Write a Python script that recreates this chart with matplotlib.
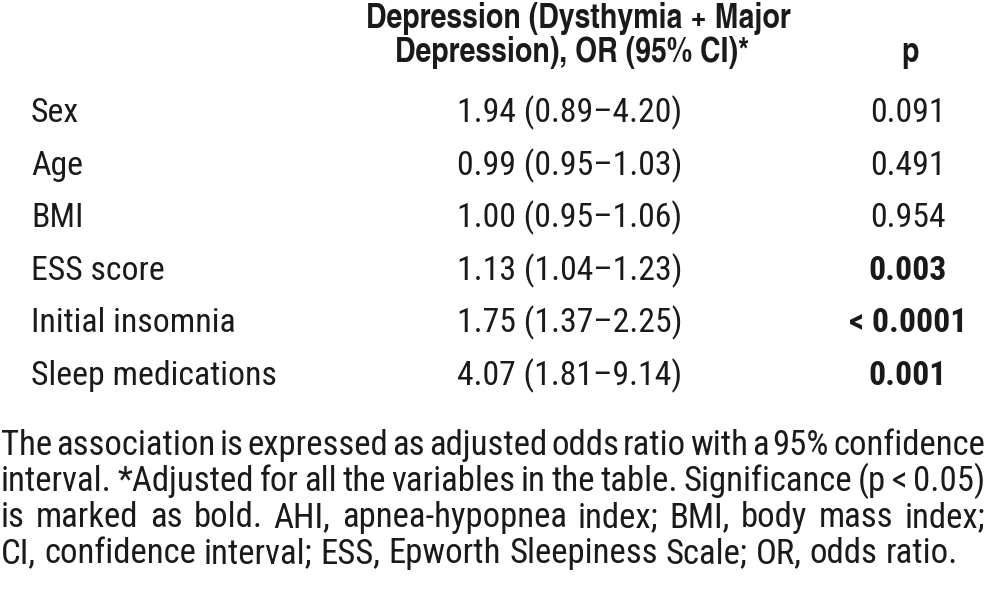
import matplotlib
matplotlib.use("Agg")
import matplotlib.pyplot as plt

# ---- data ----
header_or = ["Depression (Dysthymia + Major", "Depression), OR (95% CI)*"]
header_p = "p"
variables = ["Sex", "Age", "BMI", "ESS score", "Initial insomnia", "Sleep medications"]
odds_ratio = ["1.94", "0.99", "1.00", "1.13", "1.75", "4.07"]
ci_low = ["0.89", "0.95", "0.95", "1.04", "1.37", "1.81"]
ci_high = ["4.20", "1.03", "1.06", "1.23", "2.25", "9.14"]
p_values = ["0.091", "0.491", "0.954", "0.003", "< 0.0001", "0.001"]
p_bold = [False, False, False, True, True, True]
footnote_lines = [
    "The association is expressed as adjusted odds ratio with a 95% confidence",
    "interval. *Adjusted for all the variables in the table. Significance (p < 0.05)",
    "is marked as bold. AHI, apnea-hypopnea index; BMI, body mass index;",
    "CI, confidence interval; ESS, Epworth Sleepiness Scale; OR, odds ratio.",
]

REG = ["Roboto Condensed", "Liberation Sans"]
HDR = ["TeX Gyre Heros Cn", "Liberation Sans"]

W, H = 988, 600
fig = plt.figure(figsize=(W / 100, H / 100), dpi=100)
ax = fig.add_axes([0, 0, 1, 1])
ax.set_xlim(0, W)
ax.set_ylim(H, 0)
ax.axis("off")

FS = 24.3
FFS = 25
col = "#1a1a1a"

# header
ax.text(578, 28, header_or[0], ha="center", va="baseline", fontsize=25, fontweight="bold", family=HDR, color=col)
ax.text(572, 62, header_or[1], ha="center", va="baseline", fontsize=25, fontweight="bold", family=HDR, color=col)
ax.text(910, 62, header_p, ha="center", va="baseline", fontsize=25, fontweight="bold", family=HDR, color=col)

row_base = [122, 175, 227, 280, 332, 385]
for i, v in enumerate(variables):
    y = row_base[i]
    ax.text(31, y, v, ha="left", va="baseline", fontsize=FS, family=REG, color=col)
    ax.text(570, y, f"{odds_ratio[i]} ({ci_low[i]}\u2013{ci_high[i]})", ha="center", va="baseline",
            fontsize=FS, family=REG, color=col)
    ax.text(908, y, p_values[i], ha="center", va="baseline", fontsize=FS,
            fontweight="bold" if p_bold[i] else "normal", family=REG, color=col)

# footnote: justified lines, last line left-aligned
fig.canvas.draw()
renderer = fig.canvas.get_renderer()
left, right = 1, 985
foot_base = [455, 491, 527, 563]
sp = ax.text(0, 0, "a a", fontsize=FFS, family=REG)
sp0 = ax.text(0, 0, "aa", fontsize=FFS, family=REG)
space_w = sp.get_window_extent(renderer).width - sp0.get_window_extent(renderer).width
sp.remove(); sp0.remove()
for k, (line, yb) in enumerate(zip(footnote_lines, foot_base)):
    words = line.split(" ")
    fs = FFS
    last = k == len(footnote_lines) - 1
    while True:
        texts = [ax.text(0, yb, w, ha="left", va="baseline", fontsize=fs, family=REG, color=col) for w in words]
        widths = [t.get_window_extent(renderer).width for t in texts]
        gap = (right - left - sum(widths)) / (len(words) - 1)
        if last:
            gap = min(gap, space_w)
        if gap >= 2.0 or fs < 14:
            break
        for t in texts:
            t.remove()
        fs -= 0.25
    x = left
    for t, w in zip(texts, widths):
        t.set_x(x)
        x += w + gap

fig.savefig("out.png", dpi=100, facecolor="white")
